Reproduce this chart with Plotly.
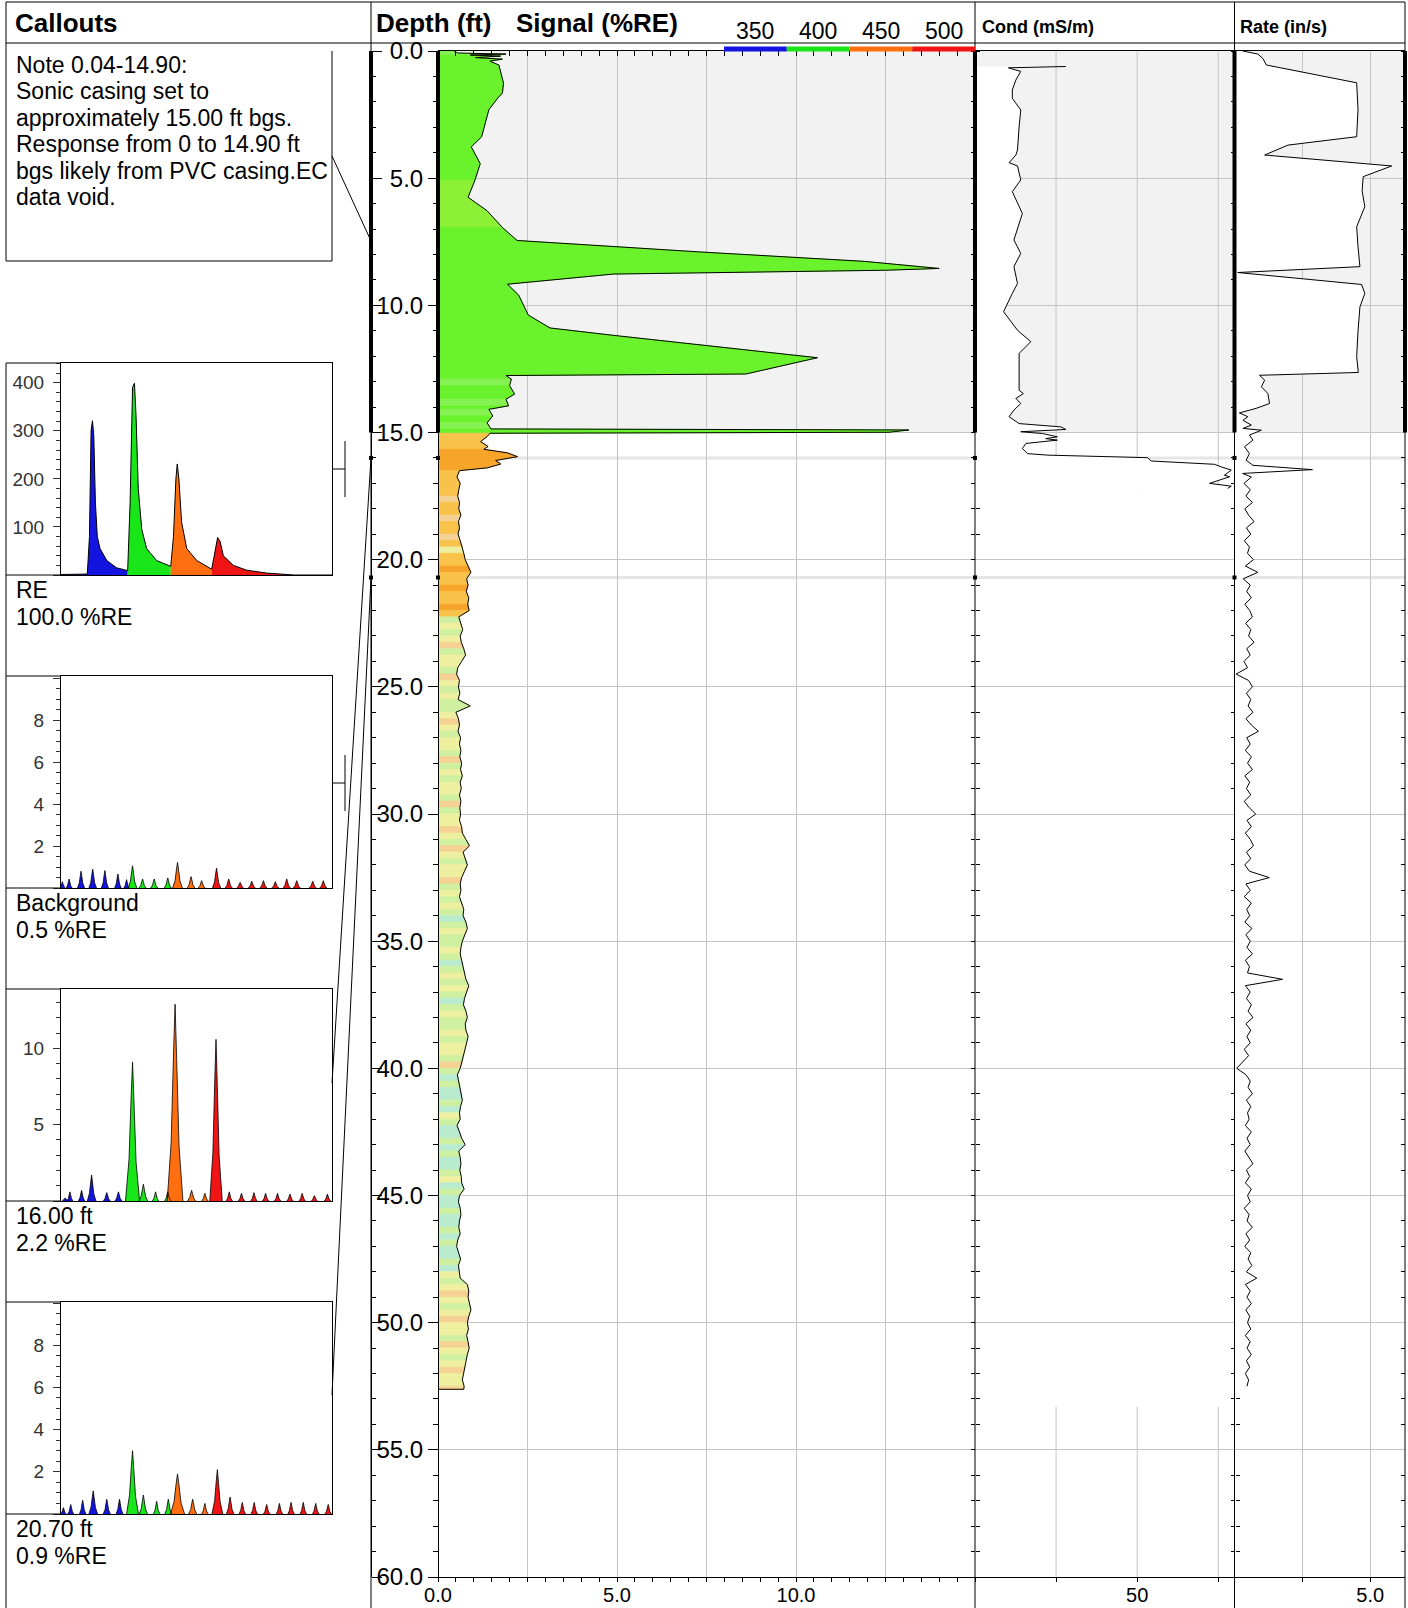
import plotly.graph_objects as go
from bisect import bisect_right

# ======================= DATA =======================
DEPTH_MAX = 60.0
CASING = (0.0, 15.0)

# Signal (%RE) vs depth (ft) - upper section read point by point
sig_top_depth = [0.00, 0.08, 0.12, 0.16, 0.20, 0.26, 0.32, 0.40, 0.55, 0.86,
                 1.26, 1.65, 1.85, 2.31, 2.84, 3.37, 3.77, 4.43, 5.09, 5.75,
                 6.28, 6.94, 7.45, 7.90, 8.27, 8.55, 8.62, 8.77, 9.17, 9.59,
                 10.38, 10.89, 11.18, 11.57, 12.06, 12.70, 12.76, 12.90, 13.16, 13.49,
                 13.69, 13.95, 14.09, 14.35, 14.62, 14.86, 14.90, 14.99, 15.03, 15.15,
                 15.36, 15.55, 15.66, 15.80, 15.95, 16.10, 16.24, 16.39, 16.50]
sig_top_value = [0.45, 0.55, 1.90, 0.90, 1.75, 1.05, 1.80, 1.45, 1.70, 1.75,
                 1.83, 1.80, 1.67, 1.42, 1.31, 1.22, 0.93, 1.18, 1.03, 0.84,
                 1.37, 1.80, 2.21, 7.30, 11.9, 14.0, 12.5, 4.90, 1.94, 2.25,
                 2.52, 3.13, 4.90, 7.50, 10.6, 8.60, 1.90, 2.05, 2.00, 2.14,
                 1.90, 1.97, 1.42, 1.53, 1.37, 1.48, 13.15, 12.6, 1.45, 1.38,
                 1.19, 1.40, 1.28, 1.94, 2.22, 1.61, 1.75, 1.38, 0.60]
# dominant spectral tone of each depth interval (see TONE_COLORS)
sig_top_tone = "LLLGGGGGGG" "GGGGGGGGYY" "YGGGGGGGGG" "GGGGGGGLGG" "LGLGLGGGAA" "AAOOOOOOA"

# Signal - lower section, one reading every 0.25 ft from 16.75 ft
sig_low_start, sig_low_step = 16.75, 0.25
sig_low_value = [0.53, 0.62, 0.58, 0.55, 0.60, 0.58, 0.64, 0.57, 0.60, 0.56,
                 0.62, 0.68, 0.72, 0.76, 0.84, 0.92, 0.80, 0.84, 0.79, 0.86,
                 0.83, 0.87, 0.58, 0.64, 0.69, 0.62, 0.65, 0.72, 0.77, 0.66,
                 0.55, 0.52, 0.60, 0.57, 0.61, 0.56, 0.90, 0.50, 0.57, 0.60,
                 0.56, 0.63, 0.60, 0.64, 0.61, 0.66, 0.63, 0.68, 0.62, 0.65,
                 0.60, 0.64, 0.61, 0.63, 0.60, 0.66, 0.68, 0.78, 0.88, 0.70,
                 0.76, 0.82, 0.74, 0.66, 0.62, 0.64, 0.60, 0.66, 0.72, 0.70,
                 0.78, 0.82, 0.74, 0.68, 0.64, 0.62, 0.66, 0.70, 0.74, 0.78,
                 0.86, 0.80, 0.74, 0.71, 0.78, 0.82, 0.76, 0.78, 0.84, 0.80,
                 0.76, 0.72, 0.68, 0.62, 0.54, 0.58, 0.62, 0.66, 0.68, 0.63,
                 0.60, 0.62, 0.53, 0.60, 0.66, 0.76, 0.58, 0.62, 0.64, 0.61,
                 0.65, 0.66, 0.73, 0.60, 0.57, 0.62, 0.64, 0.60, 0.58, 0.62,
                 0.55, 0.52, 0.58, 0.63, 0.57, 0.60, 0.62, 0.82, 0.86, 0.84,
                 0.88, 0.92, 0.86, 0.82, 0.85, 0.80, 0.84, 0.87, 0.82, 0.78,
                 0.76, 0.70, 0.68, 0.73]
sig_low_tone = ("AAAPA" "APAAPAEA" "AOAAOAAOA" "VEVEPVEEVPEV" "EVVEPEVEEVPVEVEEVPVE"
                "EPEVPEVEEPVE" "VEVCVEVVEVCVEVEVCVEVVEVEEVPV"
                "CVCCVCEVCCVCVCCVECVCCVCCVCVCCVCEV" "EPEVEPEEVPEVEPEEP")
sig_end_depth, sig_end_value = 52.62, 0.72

# Conductivity (mS/m)
cond_depth = [0.61, 0.63, 0.66, 0.75, 0.80, 1.14, 1.53, 1.86, 2.32, 2.98,
              3.89, 4.09, 4.39, 4.52, 5.07, 5.53, 6.39, 7.43, 7.96, 8.48,
              9.14, 9.53, 10.25, 10.98, 11.43, 11.89, 13.34, 13.47, 13.66, 13.86,
              14.12, 14.38, 14.65, 14.78, 14.88, 14.97, 15.04, 15.17, 15.24, 15.30,
              15.43, 15.63, 15.83, 15.89, 15.99, 16.12, 16.25, 16.35, 16.48, 16.68,
              16.74, 17.00, 17.11, 17.20]
cond_value = [28.0, 11.8, 10.3, 12.6, 14.1, 12.6, 11.5, 11.5, 14.1, 13.6,
              13.1, 12.6, 10.5, 13.1, 14.1, 11.5, 14.6, 12.0, 14.1, 12.0,
              13.1, 11.5, 8.8, 13.1, 17.2, 13.6, 13.6, 14.9, 12.6, 14.1,
              12.0, 10.5, 13.6, 26.5, 28.0, 14.1, 20.8, 25.4, 21.8, 25.4,
              15.7, 14.6, 16.2, 22.4, 53.2, 54.3, 73.8, 75.9, 79.0, 76.9,
              78.5, 72.3, 79.0, 77.9]

# Rate (in/s)
rate_top_depth = [0.00, 0.12, 0.30, 0.42, 0.55, 1.25, 2.30, 3.37, 3.70, 4.09,
                  4.52, 4.94, 5.50, 6.12, 6.91, 7.70, 8.48, 8.71, 9.18, 9.53,
                  10.06, 11.00, 12.02, 12.64, 12.75, 12.94, 13.20, 13.47, 13.86, 14.05,
                  14.12, 14.23, 14.38, 14.52, 14.71, 14.84, 14.91, 15.10, 15.30, 15.56,
                  15.83, 16.09, 16.29, 16.46, 16.61]
rate_top_value = [0.30, 0.86, 1.05, 1.11, 1.17, 4.50, 4.55, 4.50, 1.97, 1.11,
                  5.79, 4.74, 4.70, 4.80, 4.50, 4.55, 4.62, 0.12, 4.68, 4.80,
                  4.62, 4.55, 4.50, 4.56, 0.92, 1.11, 0.99, 1.23, 1.29, 0.80,
                  0.55, 0.18, 0.49, 0.31, 0.62, 0.31, 0.99, 0.55, 0.68, 0.37,
                  0.55, 0.43, 0.68, 2.87, 0.30]
rate_low_start, rate_low_step = 16.75, 0.25
rate_low_value = [0.62, 0.35, 0.58, 0.42, 0.66, 0.38, 0.52, 0.72, 0.44, 0.60,
                  0.36, 0.55, 0.48, 0.70, 0.40, 0.86, 0.32, 0.58, 0.45, 0.62,
                  0.38, 0.56, 0.66, 0.41, 0.60, 0.52, 0.72, 0.45, 0.58, 0.35,
                  0.48, 0.06, 0.52, 0.66, 0.44, 0.60, 0.50, 0.68, 0.42, 0.62,
                  0.88, 0.45, 0.58, 0.40, 0.62, 0.48, 0.66, 0.38, 0.56, 0.44,
                  0.60, 0.36, 0.54, 0.78, 0.46, 0.62, 0.40, 0.58, 0.70, 0.44,
                  0.60, 0.38, 0.55, 1.28, 0.42, 0.58, 0.36, 0.62, 0.45, 0.56,
                  0.38, 0.64, 0.42, 0.58, 0.46, 0.66, 0.40, 0.55, 0.48, 1.77,
                  0.40, 0.58, 0.44, 0.62, 0.50, 0.68, 0.42, 0.60, 0.46, 0.58,
                  0.36, 0.52, 0.30, 0.08, 0.42, 0.58, 0.50, 0.66, 0.44, 0.60,
                  0.48, 0.54, 0.40, 0.62, 0.46, 0.58, 0.38, 0.52, 0.68, 0.44,
                  0.56, 0.40, 0.62, 0.48, 0.58, 0.36, 0.54, 0.46, 0.66, 0.42,
                  0.56, 0.38, 0.60, 0.50, 0.64, 0.44, 0.82, 0.40, 0.58, 0.46,
                  0.62, 0.42, 0.56, 0.48, 0.60, 0.40, 0.58, 0.46, 0.62, 0.44,
                  0.56, 0.40, 0.52, 0.46]

# Colour legend (wavelength bands)
band_wavelengths = [350, 400, 450, 500]
band_edges = [0, 24.6, 40.5, 55.6, 100]      # band limits on the spectrum x scale

# Callouts
note_lines = ["Note 0.04-14.90:", "Sonic casing set to", "approximately 15.00 ft bgs.",
              "Response from 0 to 14.90 ft", "bgs likely from PVC casing.EC", "data void."]
note_depth = 7.47
callout_depths = [16.00, 20.70]

# RE spectrum (full waveform)
re_x = [0, 9.5, 9.7, 10.5, 11.1, 11.6, 12.1, 12.7, 13.4, 14.4, 16.9, 20.5, 24.6,
        25.5, 26.4, 27.1, 27.7, 28.5, 29.8, 31.6, 35.3, 40.5,
        41.5, 42.4, 42.9, 43.5, 44.5, 46.4, 50.1, 55.6,
        56.8, 57.8, 58.7, 59.9, 63.6, 68.5, 75.9, 79.6, 84.5, 86, 100]
re_y = [1, 1, 2, 80, 300, 321, 290, 150, 80, 55, 30, 15, 9,
        150, 390, 399, 330, 180, 95, 55, 30, 18,
        80, 200, 231, 200, 110, 55, 30, 12,
        50, 78, 70, 40, 20, 10, 4, 2, 0.5, 0, 0]

# Pulse spectra: peak position, peak height, half width
bg_peak_x = [0.5, 3.0, 7.4, 11.7, 16.2, 21.0, 24.2, 26.4, 30.1, 34.4, 39.4, 43.0, 48.0, 51.9,
             57.4, 61.9, 66.1, 70.4, 74.7, 79.1, 83.3, 87.0, 92.9, 96.8]
bg_peak_h = [0.30, 0.43, 0.80, 0.90, 0.83, 0.67, 0.40, 1.06, 0.43, 0.43, 0.48, 1.22, 0.54, 0.35,
             0.95, 0.43, 0.27, 0.32, 0.35, 0.30, 0.43, 0.35, 0.32, 0.35]
bg_peak_w = [0.9, 1.1, 1.3, 1.4, 1.3, 1.2, 1.0, 1.6, 1.3, 1.3, 1.3, 1.8, 1.4, 1.3,
             1.5, 1.3, 1.3, 1.3, 1.3, 1.3, 1.3, 1.3, 1.3, 1.3]

d16_peak_x = [1.5, 3.3, 7.6, 11.3, 16.9, 21.2, 26.4, 30.4, 34.9, 39.4, 42.1, 48.2, 53.1,
              57.2, 62.1, 66.6, 71.2, 75.5, 79.9, 84.5, 89.0, 93.5, 98.3]
d16_peak_h = [0.2, 0.6, 0.7, 1.7, 0.55, 0.6, 9.1, 1.1, 0.6, 0.6, 12.9, 0.7, 0.5,
              10.6, 0.6, 0.5, 0.55, 0.5, 0.5, 0.45, 0.5, 0.35, 0.45]
d16_peak_w = [1.0, 1.1, 1.2, 1.6, 1.3, 1.3, 2.6, 1.6, 1.2, 1.2, 2.9, 1.5, 1.2,
              2.3, 1.2, 1.2, 1.2, 1.2, 1.2, 1.2, 1.2, 1.2, 1.2]

d207_peak_x = [0.9, 3.6, 8.0, 11.9, 16.9, 21.6, 26.4, 30.4, 35.3, 39.6, 43.0, 48.6, 53.1,
               57.7, 62.4, 66.9, 71.3, 75.9, 80.6, 84.9, 89.4, 94.0, 98.6]
d207_peak_h = [0.3, 0.45, 0.65, 1.1, 0.7, 0.7, 3.0, 0.9, 0.6, 0.7, 1.9, 0.7, 0.5,
               2.1, 0.8, 0.55, 0.55, 0.45, 0.5, 0.55, 0.55, 0.5, 0.45]
d207_peak_w = [1.0, 1.1, 1.2, 1.6, 1.3, 1.3, 2.2, 1.5, 1.2, 1.3, 2.6, 1.5, 1.2,
               2.0, 1.4, 1.2, 1.2, 1.2, 1.2, 1.2, 1.2, 1.2, 1.2]

spectra_captions = [["RE", "100.0 %RE"], ["Background", "0.5 %RE"],
                    ["16.00 ft", "2.2 %RE"], ["20.70 ft", "0.9 %RE"]]
spectra_ymax = [441, 10.1, 13.9, 10.05]
spectra_dtick = [100, 2, 5, 2]
spectra_minor = [20, 0.5, 1, 0.5]

# ======================= STYLE / GEOMETRY =======================
FONT = "Arial, 'Liberation Sans', sans-serif"
W, H = 1408, 1608
GRID = '#c4c4c4'
SHADE = '#f2f2f2'
BAND_COLORS = ['#1414e0', '#19e619', '#ff6f0f', '#f01414']
TONE_COLORS = {'G': '#6af22c', 'L': '#86f152', 'Y': '#8cf036', 'O': '#f7a52a',
               'A': '#f9c24a', 'P': '#f5d193', 'E': '#eef0a0', 'V': '#cff0a0', 'C': '#b9ebcf'}
PULSE_DX = [-1, -0.5, -0.2, 0, 0.2, 0.5, 1]
PULSE_DY = [0, 0.3, 0.75, 1, 0.72, 0.28, 0]

TOP, BOT = 51, 1577
X_DL, X_SL, X_SR, X_RL, X_RR = 371, 438, 975, 1234.5, 1405
SPEC_L, SPEC_R, BOX_L = 61, 332, 6
SPEC_TOPS = [363, 676, 989, 1302]
SPEC_H = 212


def fx(p):
    return p / W


def fy(p):
    return 1 - p / H


def dy(d):
    return fy(TOP + d / DEPTH_MAX * (BOT - TOP))


fig = go.Figure()
shapes, annos = [], []


def line_px(x0, y0, x1, y1, color='black', width=1, layer='above'):
    shapes.append(dict(type='line', xref='paper', yref='paper', x0=fx(x0), y0=fy(y0),
                       x1=fx(x1), y1=fy(y1), line=dict(color=color, width=width), layer=layer))


def text_px(x, y, s, size=20, bold=False, anchor='left', color='black'):
    annos.append(dict(xref='paper', yref='paper', x=fx(x), y=fy(y), text=f"<b>{s}</b>" if bold else s,
                      showarrow=False, xanchor=anchor, yanchor='middle',
                      font=dict(family=FONT, size=size, color=color)))


# ---------- background shapes ----------
shapes.append(dict(type='rect', xref='paper', yref='y', x0=fx(X_SL), x1=fx(X_RR), y0=CASING[0], y1=CASING[1],
                   fillcolor=SHADE, line=dict(width=0), layer='below'))
for d in callout_depths:
    shapes.append(dict(type='line', xref='paper', yref='y', x0=fx(X_SL), x1=fx(X_RR), y0=d, y1=d,
                       line=dict(color='#e6e6e6', width=3), layer='below'))
for gx in [25, 50, 75]:
    for (a, b) in [(0, 17.2), (53.3, DEPTH_MAX)]:
        shapes.append(dict(type='line', xref='x2', yref='y', x0=gx, x1=gx, y0=a, y1=b,
                           line=dict(color=GRID, width=1), layer='below'))

# ---------- signal track ----------
sig_depth = sig_top_depth + [sig_low_start + sig_low_step * i for i in range(len(sig_low_value))] + [sig_end_depth]
sig_value = sig_top_value + sig_low_value + [sig_end_value]
tones = sig_top_tone + sig_low_tone
tones = (tones + tones[-1] * len(sig_value))[:len(sig_value)]

n = len(sig_depth)
i = 0
while i < n - 1:
    j = i
    while j + 1 < n - 1 and tones[j + 1] == tones[i]:
        j += 1
    ds = sig_depth[i:j + 2]
    vs = sig_value[i:j + 2]
    c = TONE_COLORS[tones[i]]
    fig.add_trace(go.Scatter(x=[0] + vs + [0], y=[ds[0]] + ds + [ds[-1]], mode='lines', fill='toself',
                             fillcolor=c, line=dict(color=c, width=0.8), hoverinfo='skip', showlegend=False,
                             xaxis='x', yaxis='y'))
    i = j + 1

fig.add_trace(go.Scatter(x=sig_value + [0], y=sig_depth + [sig_depth[-1]], mode='lines',
                         line=dict(color='black', width=1), hoverinfo='skip', showlegend=False,
                         xaxis='x', yaxis='y'))

# ---------- cond track ----------
fig.add_trace(go.Scatter(x=cond_value, y=cond_depth, mode='lines', fill='tozerox', fillcolor='white',
                         line=dict(color='black', width=1), hoverinfo='skip', showlegend=False,
                         xaxis='x2', yaxis='y'))

# ---------- rate track ----------
rate_depth = rate_top_depth + [rate_low_start + rate_low_step * i for i in range(len(rate_low_value))]
rate_value = rate_top_value + rate_low_value
fig.add_trace(go.Scatter(x=rate_value, y=rate_depth, mode='lines', fill='tozerox', fillcolor='white',
                         line=dict(color='black', width=1), hoverinfo='skip', showlegend=False,
                         xaxis='x3', yaxis='y'))

# dummy traces so that overlay axes are drawn
for ya in ['y2', 'y3', 'y4', 'y5', 'y6', 'y7']:
    fig.add_trace(go.Scatter(x=[None], y=[None], xaxis='x', yaxis=ya, showlegend=False, hoverinfo='skip'))
fig.add_trace(go.Scatter(x=[None], y=[None], xaxis='x4', yaxis='y', showlegend=False, hoverinfo='skip'))


# ---------- spectra ----------
def band_of(x):
    return min(max(bisect_right(band_edges, x) - 1, 0), 3)


def add_curve_spectrum(xa, ya, xs, ys):
    for b in range(4):
        lo, hi = band_edges[b], band_edges[b + 1]
        pts = [(x, y) for x, y in zip(xs, ys) if lo <= x <= hi]
        fig.add_trace(go.Scatter(x=[p[0] for p in pts], y=[p[1] for p in pts], mode='lines', fill='tozeroy',
                                 fillcolor=BAND_COLORS[b], line=dict(width=0), hoverinfo='skip',
                                 showlegend=False, xaxis=xa, yaxis=ya))
    fig.add_trace(go.Scatter(x=xs, y=ys, mode='lines', line=dict(color='black', width=1),
                             hoverinfo='skip', showlegend=False, xaxis=xa, yaxis=ya))


def add_pulse_spectrum(xa, ya, cx, hh, ww):
    by_band = {b: ([], []) for b in range(4)}
    ox, oy = [], []
    for c, h, w in zip(cx, hh, ww):
        b = band_of(c)
        xs = [c + dx * w for dx in PULSE_DX]
        ys = [h * k for k in PULSE_DY]
        by_band[b][0].extend(xs + [None])
        by_band[b][1].extend(ys + [None])
        ox.extend(xs + [None])
        oy.extend(ys + [None])
    for b, (xs, ys) in by_band.items():
        if xs:
            fig.add_trace(go.Scatter(x=xs, y=ys, mode='lines', fill='toself', fillcolor=BAND_COLORS[b],
                                     line=dict(width=0), hoverinfo='skip', showlegend=False,
                                     xaxis=xa, yaxis=ya))
    fig.add_trace(go.Scatter(x=ox, y=oy, mode='lines', line=dict(color='black', width=0.8),
                             hoverinfo='skip', showlegend=False, xaxis=xa, yaxis=ya))


add_curve_spectrum('x5', 'y8', re_x, re_y)
add_pulse_spectrum('x6', 'y9', bg_peak_x, bg_peak_h, bg_peak_w)
add_pulse_spectrum('x7', 'y10', d16_peak_x, d16_peak_h, d16_peak_w)
add_pulse_spectrum('x8', 'y11', d207_peak_x, d207_peak_h, d207_peak_w)

# ---------- layout axes ----------
tickfont = dict(family=FONT, size=24, color='black')
bottomfont = dict(family=FONT, size=20, color='black')
layout = dict(
    width=W, height=H, autosize=False, margin=dict(l=0, r=0, t=0, b=0, pad=0, autoexpand=False),
    paper_bgcolor='white', plot_bgcolor='white', showlegend=False, hovermode=False,
)
layout['yaxis'] = dict(domain=[fy(BOT), fy(TOP)], range=[DEPTH_MAX, 0], anchor='free', position=fx(X_SL),
                       side='left', showline=True, linecolor='black', linewidth=1, automargin=False,
                       ticks='outside', ticklen=10, tickcolor='black', tickmode='linear', tick0=0, dtick=5,
                       tickformat='.1f', tickfont=tickfont, showgrid=True, gridcolor=GRID, zeroline=False,
                       minor=dict(ticks='outside', ticklen=5, tickcolor='black', tick0=0, dtick=1, showgrid=False))
ov = dict(overlaying='y', anchor='free', range=[DEPTH_MAX, 0], showgrid=False, zeroline=False,
          showticklabels=False, tickmode='linear', tick0=0, dtick=1, ticks='outside', ticklen=4,
          tickcolor='black', showline=False, automargin=False)
layout['yaxis2'] = dict(ov, position=fx(X_DL), side='right', dtick=5, ticklen=10, showline=True,
                        linecolor='black',
                        minor=dict(ticks='outside', ticklen=4, tick0=0, dtick=1, tickcolor='black'))
layout['yaxis3'] = dict(ov, position=fx(X_SR), side='left')
layout['yaxis4'] = dict(ov, position=fx(X_SR), side='right')
layout['yaxis5'] = dict(ov, position=fx(X_RL), side='left')
layout['yaxis6'] = dict(ov, position=fx(X_RL), side='right')
layout['yaxis7'] = dict(ov, position=fx(X_RR), side='left')

bottom_common = dict(anchor='y', side='bottom', showline=True, linecolor='black', mirror=True,
                     zeroline=False, automargin=False, ticks='outside', ticklen=4, tickcolor='black',
                     tickfont=bottomfont, ticklabelstandoff=-4)
layout['xaxis'] = dict(bottom_common, domain=[fx(X_SL), fx(X_SR)], range=[0, 15],
                       tickmode='linear', tick0=0, dtick=2.5, tickformat='.1f',
                       labelalias={'2.5': '', '7.5': '', '12.5': '', '15.0': ''},
                       showgrid=True, gridcolor=GRID,
                       minor=dict(ticks='outside', ticklen=4, tick0=0, dtick=0.5, tickcolor='black',
                                  showgrid=False))
layout['xaxis4'] = dict(overlaying='x', anchor='y', side='top', range=[0, 15], showgrid=False,
                        zeroline=False, showticklabels=False, showline=False, tickmode='linear',
                        tick0=0, dtick=0.5, ticks='inside', ticklen=5, tickcolor='black', automargin=False)
layout['xaxis2'] = dict(bottom_common, domain=[fx(X_SR), fx(X_RL)], range=[0, 80],
                        tickmode='linear', tick0=0, dtick=25, labelalias={'0': '', '25': '', '75': ''},
                        showgrid=False)
layout['xaxis3'] = dict(bottom_common, domain=[fx(X_RL), fx(X_RR)], range=[0, 6.28],
                        tickmode='linear', tick0=0, dtick=2.5, tickformat='.1f',
                        labelalias={'0.0': '', '2.5': ''},
                        showgrid=True, gridcolor=GRID)

for k in range(4):
    xa, ya = f'xaxis{5 + k}', f'yaxis{8 + k}'
    top = SPEC_TOPS[k]
    bot = top + SPEC_H
    alias = {'0': ''}
    if spectra_ymax[k] < 11:
        alias['10'] = ''
    layout[xa] = dict(domain=[fx(SPEC_L), fx(SPEC_R)], range=[0, 100], anchor=f'y{8 + k}',
                      showline=True, mirror=True, linecolor='black', ticks='', showticklabels=False,
                      showgrid=False, zeroline=False, automargin=False)
    layout[ya] = dict(domain=[fy(bot), fy(top)], range=[0, spectra_ymax[k]], anchor=f'x{5 + k}',
                      showline=True, mirror=True, linecolor='black', ticks='outside', ticklen=7,
                      tickcolor='#333', tickmode='linear', tick0=0, dtick=spectra_dtick[k],
                      labelalias=alias, ticklabelstandoff=5, automargin=False,
                      tickfont=dict(family=FONT, size=19, color='#333'), showgrid=False, zeroline=False,
                      minor=dict(ticks='outside', ticklen=4, tick0=0, dtick=spectra_minor[k],
                                 tickcolor='#333'))
    # frame extensions to box edge
    line_px(BOX_L, top, SPEC_L, top)
    line_px(BOX_L, bot, SPEC_L, bot)
    text_px(14, bot + 15, spectra_captions[k][0], size=23)
    text_px(14, bot + 42, spectra_captions[k][1], size=23)

# ---------- frames & borders ----------
line_px(BOX_L, 2, X_RR, 2)                # top border
line_px(BOX_L, 43, X_RR, 43)              # header bottom
line_px(BOX_L, 2, BOX_L, 261)             # note box left
line_px(BOX_L, SPEC_TOPS[0], BOX_L, H)    # callout column left
line_px(BOX_L, 261, SPEC_R, 261)          # note box bottom
line_px(SPEC_R, 51, SPEC_R, 261)          # note box right
for xb in [X_DL, X_SR, X_RL, X_RR]:
    line_px(xb, 2, xb, H)

# casing thick bars
for xb in [X_DL, X_SL, X_SR, X_RL, X_RR]:
    shapes.append(dict(type='line', xref='paper', yref='y', x0=fx(xb), x1=fx(xb), y0=CASING[0], y1=CASING[1],
                       line=dict(color='black', width=4), layer='above'))

# brackets for RE and Background callouts
for ymid in [469, 783]:
    line_px(SPEC_R, ymid, 345, ymid)
    line_px(345, ymid - 28, 345, ymid + 28)

# connectors
shapes.append(dict(type='line', xref='paper', yref='paper', x0=fx(SPEC_R), y0=fy(156),
                   x1=fx(X_DL), y1=dy(note_depth), line=dict(color='black', width=1)))
for d, ystart in zip(callout_depths, [1083, 1395]):
    shapes.append(dict(type='line', xref='paper', yref='paper', x0=fx(SPEC_R), y0=fy(ystart),
                       x1=fx(X_DL), y1=dy(d), line=dict(color='black', width=1)))
    for xb in [X_DL, X_SL, X_SR, X_RL]:
        shapes.append(dict(type='rect', xref='paper', yref='paper', x0=fx(xb - 2), x1=fx(xb + 2),
                           y0=dy(d) - 2 / H, y1=dy(d) + 2 / H, fillcolor='black', line=dict(width=0)))

# colour legend bar
bx0, bx1 = 724, X_SR
bw = (bx1 - bx0) / len(band_wavelengths)
for k, wl in enumerate(band_wavelengths):
    shapes.append(dict(type='rect', xref='paper', yref='paper', x0=fx(bx0 + k * bw), x1=fx(bx0 + (k + 1) * bw),
                       y0=fy(51.5), y1=fy(46.5), fillcolor=BAND_COLORS[k], line=dict(width=0)))
    text_px(bx0 + (k + 0.5) * bw, 31, str(wl), size=23, anchor='center')

# ---------- header texts ----------
text_px(13, 23, "Callouts", size=26, bold=True)
text_px(374, 23, "Depth (ft)", size=26, bold=True)
text_px(514, 23, "Signal (%RE)", size=26, bold=True)
text_px(980, 27, "Cond (mS/m)", size=18, bold=True)
text_px(1238, 27, "Rate (in/s)", size=18, bold=True)

# note text
for k, s in enumerate(note_lines):
    text_px(14, 64.6 + 26.5 * k, s, size=23)

layout['shapes'] = shapes
layout['annotations'] = annos
fig.update_layout(**layout)

fig.write_html("out.html", config={'displayModeBar': False},
               post_script="document.body.style.margin='0';document.body.style.overflow='hidden';")
